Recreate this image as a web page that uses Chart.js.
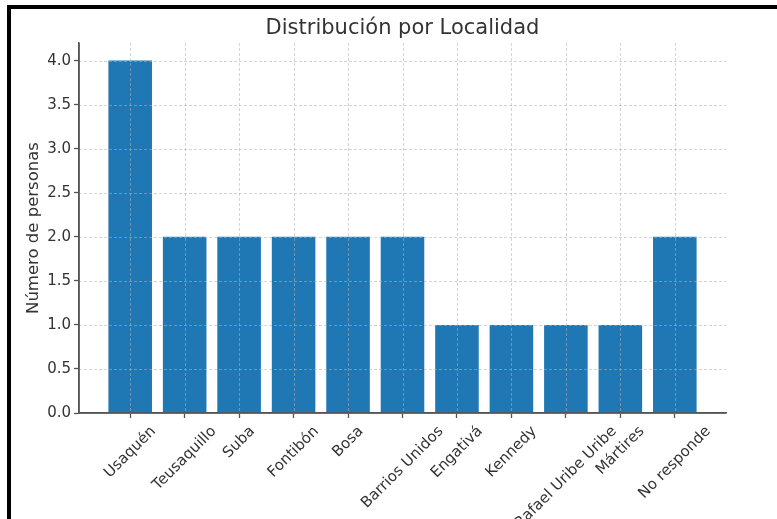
<!DOCTYPE html>
<html><head><meta charset="utf-8">
<script src="https://cdn.jsdelivr.net/npm/chart.js@4"></script>
<style>
html,body{margin:0;padding:0;background:#fff;}
#wrap{position:relative;width:777px;height:519px;overflow:hidden;}
#frame{position:absolute;left:7px;top:5px;right:-10px;bottom:-10px;border-top:4px solid #000;border-left:4px solid #000;pointer-events:none;}
</style></head><body>
<div id="wrap"><canvas id="c" width="777" height="519"></canvas><div id="frame"></div></div>
<script>
const categories = ['Usaquén','Teusaquillo','Suba','Fontibón','Bosa','Barrios Unidos','Engativá','Kennedy','Rafael Uribe Uribe','Mártires','No responde'];
const counts = [4,2,2,2,2,2,1,1,1,1,2];
const yTickValues = [0,0.5,1,1.5,2,2.5,3,3.5,4];
const chartTitle = 'Distribución por Localidad';
const yTitle = 'Número de personas';

const FONT = "'DejaVu Sans', sans-serif";
const TEXT = '#333';
const GRID = 'rgba(176,176,176,0.55)';
const SPINE = '#555';
const BAR = '#1f77b4';

const overlay = {
  id: 'overlay',
  afterDatasetsDraw(chart) {
    const {ctx, chartArea: a, scales: {x, y}} = chart;
    ctx.save();
    ctx.strokeStyle = GRID; ctx.lineWidth = 1; ctx.setLineDash([3, 2]);
    ctx.beginPath();
    x.ticks.forEach(t => { const px = Math.round(x.getPixelForValue(t.value)) + 0.5; ctx.moveTo(px, a.top); ctx.lineTo(px, a.bottom); });
    y.ticks.forEach(t => { const py = Math.round(y.getPixelForValue(t.value)) + 0.5; ctx.moveTo(a.left, py); ctx.lineTo(a.right, py); });
    ctx.stroke();
    ctx.setLineDash([]);
    ctx.strokeStyle = SPINE; ctx.lineWidth = 1.5;
    ctx.beginPath();
    ctx.moveTo(a.left, a.bottom); ctx.lineTo(a.right, a.bottom);
    ctx.moveTo(a.left, a.top); ctx.lineTo(a.left, a.bottom);
    ctx.stroke();
    ctx.restore();
  },
  afterDraw(chart) {
    const {ctx, chartArea: a, scales: {x}} = chart;
    const top = a.bottom + 10;
    ctx.save();
    ctx.font = '15px ' + FONT; ctx.fillStyle = TEXT;
    ctx.textAlign = 'center'; ctx.textBaseline = 'middle';
    categories.forEach((c, i) => {
      const px = x.getPixelForValue(i);
      const w = ctx.measureText(c).width;
      const half = (w + 17) * Math.SQRT1_2 / 2;
      ctx.save();
      ctx.translate(px, top + half);
      ctx.rotate(-Math.PI / 4);
      ctx.fillText(c, 0, 0);
      ctx.restore();
    });
    ctx.restore();
  }
};

new Chart(document.getElementById('c'), {
  type: 'bar',
  data: {
    datasets: [{
      label: yTitle,
      data: categories.map((c, i) => ({x: i, y: counts[i]})),
      backgroundColor: BAR,
      borderWidth: 0,
      barPercentage: 0.8,
      categoryPercentage: 1
    }]
  },
  options: {
    responsive: false,
    devicePixelRatio: 1,
    animation: false,
    layout: {padding: {left: 0, right: 51, top: 0, bottom: 0}},
    plugins: {
      legend: {display: false},
      tooltip: {enabled: false},
      title: {
        display: true, text: chartTitle, fullSize: false,
        color: TEXT, font: {family: FONT, size: 21, weight: 'normal'},
        padding: {top: 16, bottom: 1.8}
      }
    },
    scales: {
      x: {
        type: 'linear', min: -0.94, max: 10.94, offset: false,
        afterBuildTicks: s => { s.ticks = categories.map((c, i) => ({value: i})); },
        afterFit: s => { s.height = 106; },
        ticks: {display: false, callback: v => categories[v]},
        grid: {offset: false, drawOnChartArea: false, drawTicks: true, tickLength: 5, tickColor: SPINE, tickWidth: 1.3},
        border: {display: true, color: SPINE, width: 1.5}
      },
      y: {
        min: 0, max: 4.2,
        afterBuildTicks: s => { s.ticks = yTickValues.map(v => ({value: v})); },
        afterFit: s => { s.width = 79; },
        ticks: {color: TEXT, font: {family: FONT, size: 15}, padding: 3, callback: v => Number(v).toFixed(1)},
        grid: {drawOnChartArea: false, drawTicks: true, tickLength: 5, tickColor: SPINE, tickWidth: 1.3},
        border: {display: true, color: SPINE, width: 1.5},
        title: {display: true, text: yTitle, color: TEXT, font: {family: FONT, size: 16.5}, padding: {top: 24, bottom: 0}}
      }
    }
  },
  plugins: [overlay]
});
</script>
</body></html>
